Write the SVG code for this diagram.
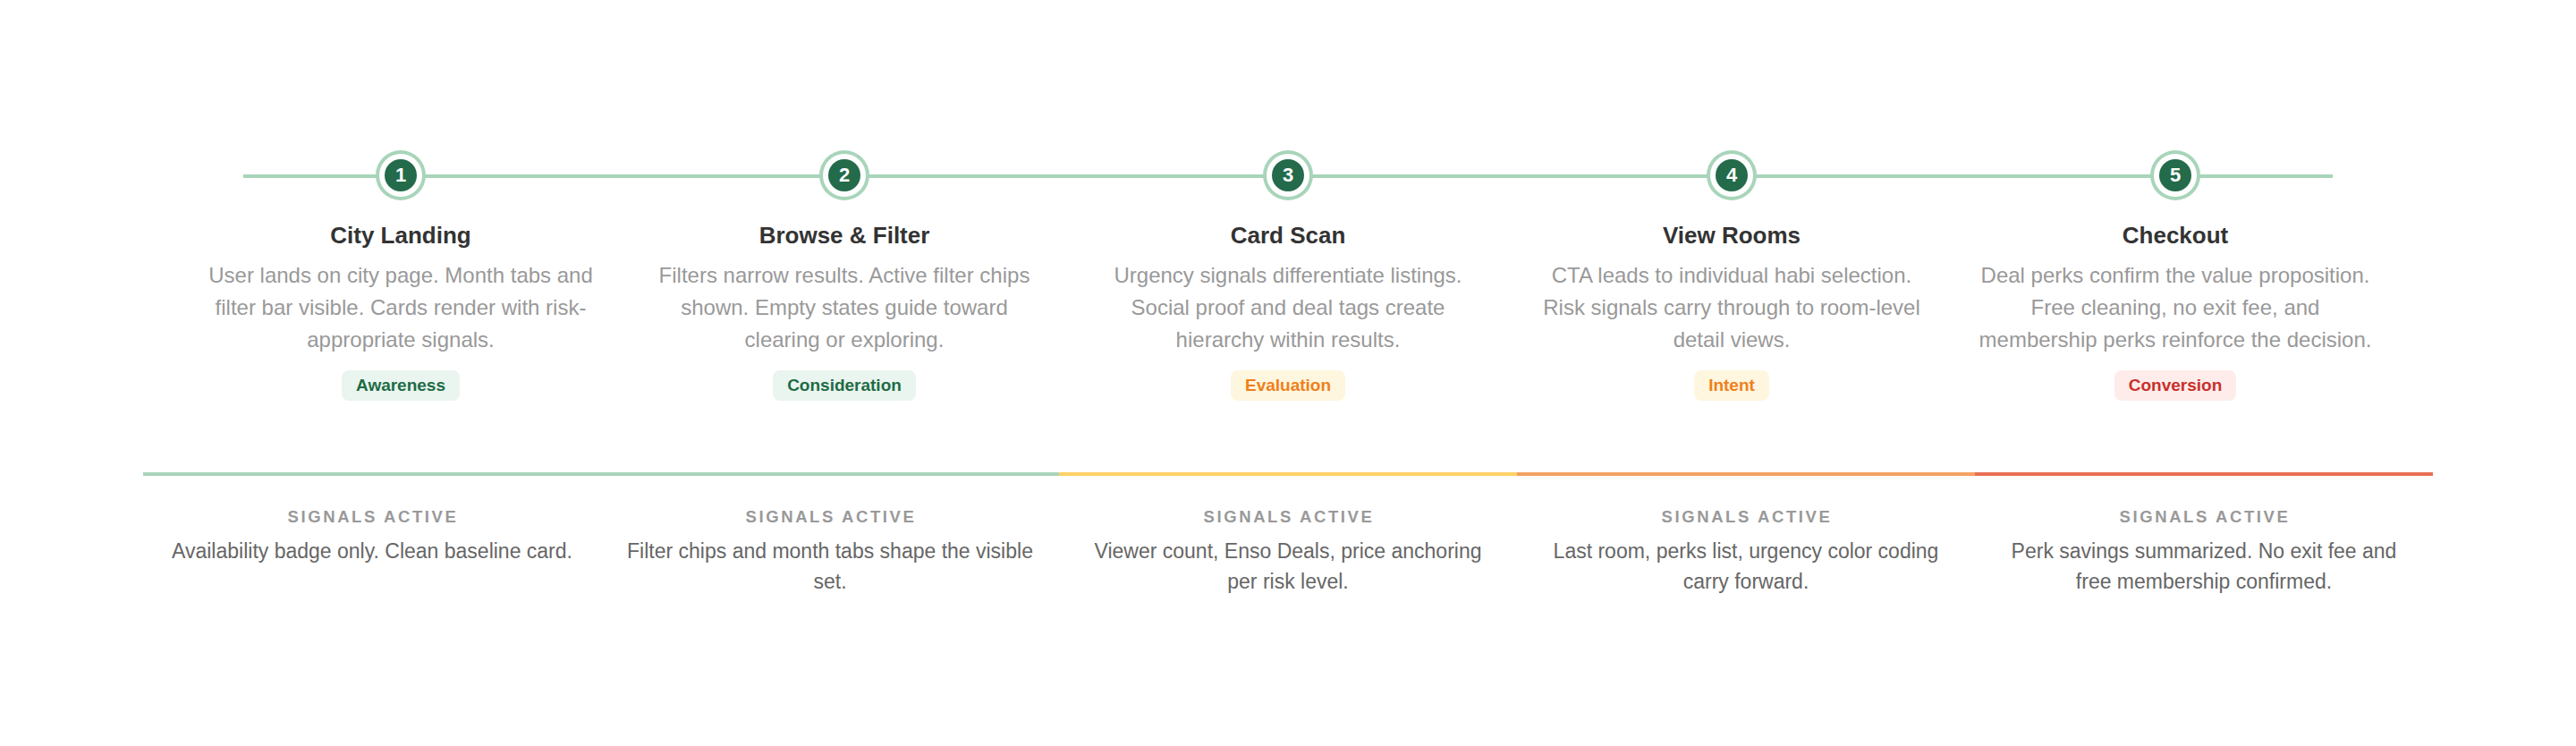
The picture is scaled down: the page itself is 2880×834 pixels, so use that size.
<svg xmlns="http://www.w3.org/2000/svg" width="2880" height="834" viewBox="0 0 2880 834">
<style>
text{font-family:"Liberation Sans",Arial,sans-serif;text-anchor:middle}
.num{font-size:22px;font-weight:bold;fill:#fff}
.title{font-size:26px;font-weight:bold;fill:#333}
.desc{font-size:24px;fill:#999}
.pill{font-size:19px;font-weight:bold}
.sig{font-size:18.5px;font-weight:bold;fill:#999;letter-spacing:2.6px}
.body{font-size:23px;fill:#666}
.ring{fill:#A8D5BA}
.gap{fill:#fff}
.dot{fill:#236B4A}
.g-bg{fill:#EAF5EF}.g-tx{fill:#1E6B45}
.y-bg{fill:#FFF6DF}.y-tx{fill:#EF7F1A}
.r-bg{fill:#FDECEA}.r-tx{fill:#C9302C}
</style>
<rect width="2880" height="834" fill="#fff"/>
<g id="connectors">
<line x1="272" y1="197" x2="2608" y2="197" stroke="#A8D5BA" stroke-width="4"/>
<rect x="160" y="528" width="1024" height="4" fill="#A8D5BA"/>
<rect x="1184" y="528" width="512" height="4" fill="#FFD166"/>
<rect x="1696" y="528" width="512" height="4" fill="#F4A261"/>
<rect x="2208" y="528" width="512" height="4" fill="#E76F51"/>
</g>
<g id="step1">
<circle class="ring" cx="448" cy="196" r="28"/><circle class="gap" cx="448" cy="196" r="24"/><circle class="dot" cx="448" cy="196" r="18"/>
<text class="num" x="448" y="203">1</text>
<text class="title" x="448" y="272">City Landing</text>
<text class="desc" x="448" y="316">User lands on city page. Month tabs and</text>
<text class="desc" x="448" y="352">filter bar visible. Cards render with risk-</text>
<text class="desc" x="448" y="388">appropriate signals.</text>
<rect class="g-bg" x="382" y="414" width="132" height="34" rx="8"/>
<text class="pill g-tx" x="448" y="437">Awareness</text>
</g>
<g id="step2">
<circle class="ring" cx="944" cy="196" r="28"/><circle class="gap" cx="944" cy="196" r="24"/><circle class="dot" cx="944" cy="196" r="18"/>
<text class="num" x="944" y="203">2</text>
<text class="title" x="944" y="272">Browse &amp; Filter</text>
<text class="desc" x="944" y="316">Filters narrow results. Active filter chips</text>
<text class="desc" x="944" y="352">shown. Empty states guide toward</text>
<text class="desc" x="944" y="388">clearing or exploring.</text>
<rect class="g-bg" x="864" y="414" width="160" height="34" rx="8"/>
<text class="pill g-tx" x="944" y="437">Consideration</text>
</g>
<g id="step3">
<circle class="ring" cx="1440" cy="196" r="28"/><circle class="gap" cx="1440" cy="196" r="24"/><circle class="dot" cx="1440" cy="196" r="18"/>
<text class="num" x="1440" y="203">3</text>
<text class="title" x="1440" y="272">Card Scan</text>
<text class="desc" x="1440" y="316">Urgency signals differentiate listings.</text>
<text class="desc" x="1440" y="352">Social proof and deal tags create</text>
<text class="desc" x="1440" y="388">hierarchy within results.</text>
<rect class="y-bg" x="1376" y="414" width="128" height="34" rx="8"/>
<text class="pill y-tx" x="1440" y="437">Evaluation</text>
</g>
<g id="step4">
<circle class="ring" cx="1936" cy="196" r="28"/><circle class="gap" cx="1936" cy="196" r="24"/><circle class="dot" cx="1936" cy="196" r="18"/>
<text class="num" x="1936" y="203">4</text>
<text class="title" x="1936" y="272">View Rooms</text>
<text class="desc" x="1936" y="316">CTA leads to individual habi selection.</text>
<text class="desc" x="1936" y="352">Risk signals carry through to room-level</text>
<text class="desc" x="1936" y="388">detail views.</text>
<rect class="y-bg" x="1894" y="414" width="84" height="34" rx="8"/>
<text class="pill y-tx" x="1936" y="437">Intent</text>
</g>
<g id="step5">
<circle class="ring" cx="2432" cy="196" r="28"/><circle class="gap" cx="2432" cy="196" r="24"/><circle class="dot" cx="2432" cy="196" r="18"/>
<text class="num" x="2432" y="203">5</text>
<text class="title" x="2432" y="272">Checkout</text>
<text class="desc" x="2432" y="316">Deal perks confirm the value proposition.</text>
<text class="desc" x="2432" y="352">Free cleaning, no exit fee, and</text>
<text class="desc" x="2432" y="388">membership perks reinforce the decision.</text>
<rect class="r-bg" x="2364" y="414" width="136" height="34" rx="8"/>
<text class="pill r-tx" x="2432" y="437">Conversion</text>
</g>
<g id="signals1">
<text class="sig" x="417" y="584">SIGNALS ACTIVE</text>
<text class="body" x="416" y="624">Availability badge only. Clean baseline card.</text>
</g>
<g id="signals2">
<text class="sig" x="929" y="584">SIGNALS ACTIVE</text>
<text class="body" x="928" y="624">Filter chips and month tabs shape the visible</text>
<text class="body" x="928" y="658">set.</text>
</g>
<g id="signals3">
<text class="sig" x="1441" y="584">SIGNALS ACTIVE</text>
<text class="body" x="1440" y="624">Viewer count, Enso Deals, price anchoring</text>
<text class="body" x="1440" y="658">per risk level.</text>
</g>
<g id="signals4">
<text class="sig" x="1953" y="584">SIGNALS ACTIVE</text>
<text class="body" x="1952" y="624">Last room, perks list, urgency color coding</text>
<text class="body" x="1952" y="658">carry forward.</text>
</g>
<g id="signals5">
<text class="sig" x="2465" y="584">SIGNALS ACTIVE</text>
<text class="body" x="2464" y="624">Perk savings summarized. No exit fee and</text>
<text class="body" x="2464" y="658">free membership confirmed.</text>
</g>
</svg>
